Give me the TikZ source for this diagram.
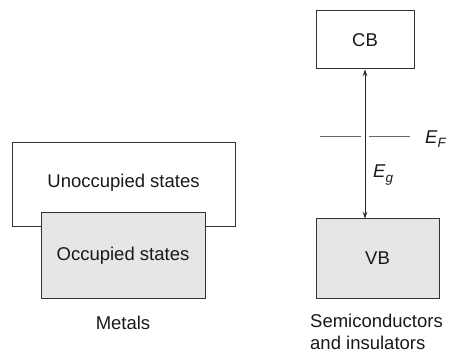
\documentclass[tikz,border=0pt]{standalone}
\usepackage{fontspec}
\setmainfont{Liberation Sans}
\usetikzlibrary{arrows.meta}
\definecolor{bandfill}{HTML}{E6E6E6}
\definecolor{linegray}{HTML}{333333}
\newcommand{\symsub}[2]{\textit{#1}\raisebox{-4.5pt}{\fontsize{13.5}{14}\selectfont\textit{#2}}}
\begin{document}
\begin{tikzpicture}[x=1pt,y=-1pt,
  every node/.style={font=\fontsize{18.5}{22}\selectfont, text=black!90},
  band/.style={draw=linegray, line width=1pt, rectangle, inner sep=0pt},
  filled/.style={band, fill=bandfill},
  lbl/.style={inner sep=0pt}]
\useasboundingbox (0,0) rectangle (449,352);
\node[band, minimum width=223pt, minimum height=84pt] (unocc) at (123.5,185) {};
\node[lbl] (unocctxt) at (123.5,183) {Unoccupied states};
\node[filled, minimum width=164pt, minimum height=85pt] (occ) at (123,255.5) {Occupied states};
\node[lbl] (metals) at (123,323) {Metals};
\node[band, minimum width=98pt, minimum height=58pt] (cb) at (365,40) {CB};
\node[filled, minimum width=123pt, minimum height=79pt] (vb) at (377.5,258.5) {VB};
\draw[black!85, line width=0.9pt, {Stealth[length=6.5pt,width=4.5pt]}-{Stealth[length=6.5pt,width=4.5pt]}] (cb.south) -- (cb.south |- vb.north);
\coordinate (ef1) at (320,137);
\coordinate (ef2) at (361,137);
\coordinate (ef3) at (369,137);
\coordinate (ef4) at (410,137);
\draw[black!60, line width=1pt] (ef1) -- (ef2);
\draw[black!60, line width=1pt] (ef3) -- (ef4);
\node[lbl, anchor=west] (ef) at (425,139) {\symsub{E}{F}};
\node[lbl, anchor=west] (eg) at (373,175) {\symsub{E}{g}};
\node[lbl, anchor=west, align=left] (semi) at (310,331.5) {Semiconductors\\and insulators};
\end{tikzpicture}
\end{document}
